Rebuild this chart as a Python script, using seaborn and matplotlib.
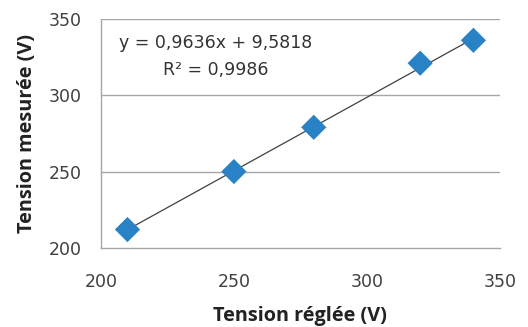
import numpy as np
import pandas as pd
import matplotlib.pyplot as plt
import seaborn as sns

# données
tension_reglee = [210, 250, 280, 320, 340]
tension_mesuree = [212, 250, 279, 321, 336]
pente = 0.9636
ordonnee = 9.5818
equation = "y = 0,9636x + 9,5818"
r2_texte = "R² = 0,9986"
x_ticks = [200, 250, 300, 350]
y_ticks = [200, 250, 300, 350]

sns.set_style("white")
plt.rcParams['font.family'] = ['DejaVu Sans']

df = pd.DataFrame({'reglee': tension_reglee, 'mesuree': tension_mesuree})
fit = pd.DataFrame({'reglee': tension_reglee})
fit['mesuree'] = pente * fit['reglee'] + ordonnee

fig = plt.figure(figsize=(5.28, 3.27), dpi=100)
ax = fig.add_axes([0.191, 0.242, 0.756, 0.700])

# grille horizontale
for y in y_ticks[1:]:
    ax.axhline(y, color='#a6a6a6', lw=1.0, zorder=0)

sns.lineplot(data=fit, x='reglee', y='mesuree', ax=ax, color='#404040', lw=0.9, zorder=2)
sns.scatterplot(data=df, x='reglee', y='mesuree', ax=ax, marker='D', s=165,
                color='#2a82c6', edgecolor='none', zorder=3)

ax.set_xlim(200, 350)
ax.set_ylim(200, 350)
ax.set_xticks(x_ticks)
ax.set_yticks(y_ticks)
ax.tick_params(labelsize=12.5, length=0, labelcolor='#404040')
ax.tick_params(axis='x', pad=18)
ax.tick_params(axis='y', pad=14)

for side in ['top', 'right']:
    ax.spines[side].set_visible(False)
for side in ['left', 'bottom']:
    ax.spines[side].set_color('#a6a6a6')
    ax.spines[side].set_linewidth(1.0)

label_font = dict(family=['Open Sans', 'DejaVu Sans'], fontsize=14.3, fontweight='bold', color='#222222')
ax.set_xlabel('Tension réglée (V)', labelpad=11, **label_font)
ax.set_ylabel('Tension mesurée (V)', labelpad=8, **label_font)

ax.text(243, 334, equation, ha='center', va='center', fontsize=12.5, color='#333333')
ax.text(243, 316.5, r2_texte, ha='center', va='center', fontsize=12.5, color='#333333')

plt.savefig('out.png', dpi=100)
